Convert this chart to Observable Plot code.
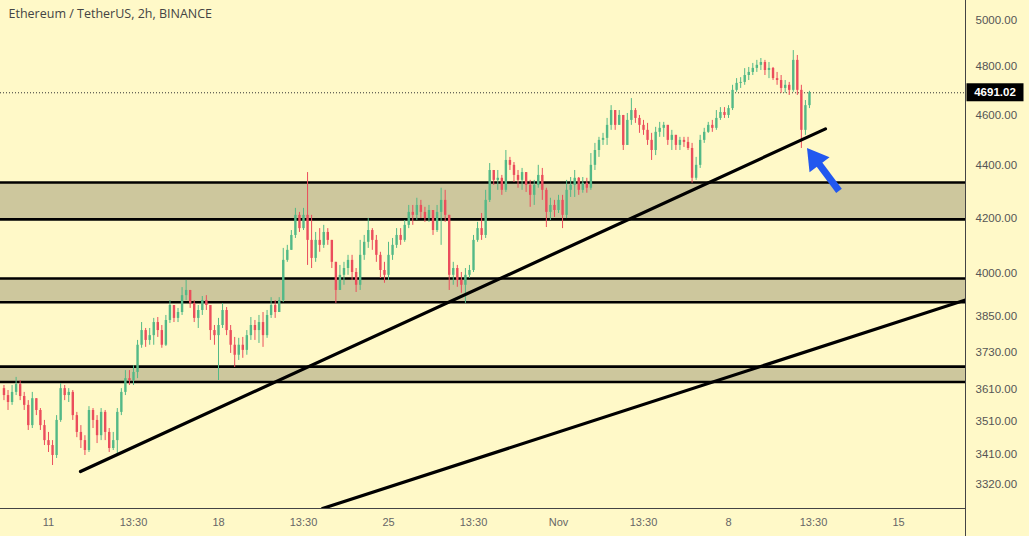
<!DOCTYPE html>
<html><head><meta charset="utf-8">
<script src="https://cdn.jsdelivr.net/npm/d3@7"></script>
<script src="https://cdn.jsdelivr.net/npm/@observablehq/plot@0.6"></script>
<style>
html,body{margin:0;padding:0;background:#fff9c8;}
#chart{position:relative;width:1029px;height:536px;overflow:hidden;}
</style></head><body><div id="chart"></div>
<script>
// ---------- data ----------
const title = "Ethereum / TetherUS, 2h, BINANCE";
const firstCandle = "2021-10-09T04:00:00Z";
const candleHours = 4;
const firstOpen = 3613;
const closes = [
3591,3569,3601,3626,3588,3560,3497,3581,3544,3497,
3451,3436,3406,3513,3613,3591,3601,3528,3476,3451,
3421,3544,3513,3466,3538,3476,3427,3451,3538,3601,
3645,3639,3665,3754,3803,3770,3786,3830,3803,3754,
3837,3888,3844,3864,3922,3940,3895,3844,3871,3905,
3888,3803,3786,3820,3871,3803,3754,3721,3754,3737,
3786,3820,3803,3830,3786,3854,3888,3864,3905,4046,
4082,4136,4210,4161,4210,4118,4053,4118,4100,4147,
4118,4039,3940,3993,4017,4046,4003,3958,4064,4111,
4154,4118,4064,4010,3993,4064,4100,4136,4118,4173,
4221,4210,4247,4221,4198,4228,4154,4221,4266,4210,
3993,4017,3975,3958,3993,4010,4118,4161,4136,4266,
4380,4342,4350,4304,4419,4400,4361,4342,4372,4323,
4285,4323,4361,4304,4221,4247,4228,4266,4210,4304,
4323,4350,4304,4331,4312,4400,4458,4498,4506,4558,
4618,4558,4598,4478,4578,4618,4586,4558,4538,4498,
4458,4530,4546,4558,4498,4518,4478,4498,4490,4466,
4350,4400,4498,4530,4558,4546,4586,4610,4598,4626,
4701,4730,4734,4763,4776,4793,4806,4818,4784,4793,
4750,4742,4709,4722,4701,4827,4701,4538,4638,4691.02];
const highs = [
3623,3607,3623,3649,3639,3601,3575,3601,3581,3550,
3513,3476,3451,3528,3629,3623,3613,3607,3538,3497,
3466,3556,3550,3528,3550,3544,3488,3476,3550,3613,
3671,3671,3687,3770,3830,3810,3810,3844,3847,3820,
3854,3905,3878,3878,3950,3975,3940,3905,3888,3919,
3922,3888,3820,3844,3895,3881,3820,3780,3777,3780,
3803,3847,3837,3854,3864,3871,3915,3905,3915,4089,
4100,4154,4236,4221,4236,4372,4210,4147,4161,4173,
4161,4118,3993,4028,4039,4064,4064,4017,4118,4136,
4198,4161,4136,4075,4039,4111,4125,4161,4161,4191,
4247,4247,4274,4266,4240,4247,4228,4247,4312,4304,
4210,4039,4028,4003,4017,4028,4136,4184,4217,4304,
4407,4380,4380,4361,4458,4431,4411,4380,4388,4372,
4342,4342,4400,4388,4312,4274,4266,4285,4285,4342,
4353,4380,4353,4353,4350,4446,4486,4510,4526,4586,
4638,4606,4618,4598,4606,4667,4626,4598,4578,4566,
4526,4550,4570,4570,4558,4538,4510,4510,4510,4510,
4486,4431,4518,4546,4570,4578,4618,4630,4630,4638,
4722,4750,4754,4792,4797,4814,4827,4835,4827,4818,
4797,4776,4763,4742,4734,4869,4848,4722,4659,4697];
const lows = [
3575,3544,3560,3591,3575,3544,3482,3488,3528,3482,
3436,3415,3376,3397,3507,3575,3569,3513,3460,3427,
3406,3415,3488,3442,3451,3451,3415,3421,3409,3528,
3591,3623,3623,3645,3744,3747,3754,3754,3780,3744,
3750,3827,3830,3830,3854,3905,3878,3830,3810,3854,
3871,3770,3754,3639,3810,3786,3727,3681,3704,3711,
3721,3770,3770,3760,3747,3777,3844,3844,3864,3898,
4039,4082,4125,4147,4154,4028,4017,4039,4075,4089,
4100,4017,3895,3940,3958,3993,3975,3933,3940,4046,
4089,4082,4039,3982,3965,3975,4046,4089,4100,4111,
4161,4173,4191,4198,4184,4184,4136,4147,4100,4184,
3940,3958,3951,3930,3895,3982,4003,4111,4118,4125,
4258,4323,4304,4285,4296,4380,4334,4312,4304,4296,
4240,4247,4312,4266,4165,4191,4202,4217,4161,4198,
4277,4277,4285,4293,4293,4304,4380,4431,4478,4478,
4538,4538,4558,4458,4498,4558,4566,4526,4518,4478,
4419,4438,4510,4510,4478,4458,4458,4458,4470,4458,
4331,4342,4388,4486,4526,4530,4538,4578,4586,4586,
4618,4693,4709,4722,4742,4763,4776,4784,4763,4750,
4742,4722,4689,4689,4680,4693,4680,4466,4518,4626];
const lastPrice = 4691.02;

// support / resistance zones (price)
const zoneLow  = [4195, 3899, 3634];
const zoneHigh = [4334, 3982, 3684];

// trend lines (two points each)
const trendId     = ["a", "a", "b", "b"];
const trendDates  = ["2021-10-12T07:37:00Z", "2021-11-11T23:51:00Z", "2021-10-22T06:46:00Z", "2021-11-17T18:12:00Z"];
const trendPrices = [3358, 4544, 3250.3, 3907];

// annotation arrow (tail -> tip)
const arrowFrom = {date: "2021-11-12T13:42:00Z", price: 4300};
const arrowTo   = {date: "2021-11-11T06:04:00Z", price: 4466};

// axes
const yTicks = [5000, 4800, 4600, 4400, 4200, 4000, 3850, 3730, 3610, 3510, 3410, 3320];
const xTickDates  = ["2021-10-11T00:00:00Z","2021-10-14T12:00:00Z","2021-10-18T00:00:00Z","2021-10-21T12:00:00Z","2021-10-25T00:00:00Z","2021-10-28T12:00:00Z","2021-11-01T00:00:00Z","2021-11-04T12:00:00Z","2021-11-08T00:00:00Z","2021-11-11T12:00:00Z","2021-11-15T00:00:00Z"];
const xTickLabels = ["11","13:30","18","13:30","25","13:30","Nov","13:30","8","13:30","15"];
const xDomain = ["2021-10-09T00:34:00Z", "2021-11-17T18:12:00Z"];
const yDomain = [3250.3, 5089];

// ---------- build ----------
const UP = "#53b987", DOWN = "#eb4d5c", ARROW = "#2258ef";
const t0 = +new Date(firstCandle);
const candles = closes.map((c, i) => {
  const open = i === 0 ? firstOpen : closes[i - 1];
  return {
    date: new Date(t0 + i * candleHours * 3600e3),
    open, close: c,
    high: Math.max(highs[i], open, c),
    low: Math.min(lows[i], open, c),
    color: c >= open ? UP : DOWN
  };
});
const zones = zoneLow.map((lo, i) => ({lo, hi: zoneHigh[i]}));
const zoneEdges = zoneLow.concat(zoneHigh);
const trend = trendId.map((id, i) => ({id, date: new Date(trendDates[i]), price: trendPrices[i]}));
const xd = xDomain.map(d => new Date(d));
const tickLabel = new Map(xTickDates.map((d, i) => [+new Date(d), xTickLabels[i]]));

const W = 1029, H = 536, MR = 64, MB = 28;
const plot = Plot.plot({
  width: W, height: H,
  marginLeft: 0, marginRight: MR, marginTop: 0, marginBottom: MB,
  style: {background: "transparent", fontFamily: "'Liberation Sans', Arial, sans-serif", overflow: "visible"},
  x: {type: "utc", domain: xd},
  y: {type: "log", domain: yDomain},
  marks: [
    Plot.rect(zones, {x1: () => xd[0], x2: () => xd[1], y1: "lo", y2: "hi", fill: "#cdc79d"}),
    Plot.ruleY(zoneEdges, {stroke: "#000", strokeWidth: 2.6}),
    Plot.ruleY([lastPrice], {stroke: "#333", strokeWidth: 1, strokeDasharray: "1,2"}),
    Plot.ruleX(candles, {x: "date", y1: "low", y2: "high", stroke: "color", strokeWidth: 1}),
    Plot.ruleX(candles, {x: "date", y1: "open", y2: "close", stroke: "color", strokeWidth: 2.4}),
    Plot.line(trend, {x: "date", y: "price", z: "id", stroke: "#000", strokeWidth: 3.2, clip: true}),
    Plot.axisY({anchor: "right", ticks: yTicks, tickFormat: d => d.toFixed(2), tickSize: 0, tickPadding: 10, fontSize: 11.5, fill: "#555", textAnchor: "start"}),
    Plot.axisX({ticks: xTickDates.map(d => new Date(d)), tickFormat: d => tickLabel.get(+d), tickSize: 0, tickPadding: 10, fontSize: 11, fill: "#666"}),
    Plot.text([title], {frameAnchor: "top-left", dx: 8, dy: 9, fontSize: 12.5, fill: "#444", textAnchor: "start", fontFamily: "'Open Sans', sans-serif", fontWeight: 500})
  ]
});
document.getElementById("chart").appendChild(plot);

const svg = d3.select(plot);
const sx = plot.scale("x"), sy = plot.scale("y");

// annotation arrow with a filled head, positioned through the plot's scales
const tail = [sx.apply(new Date(arrowFrom.date)), sy.apply(arrowFrom.price)];
const tip  = [sx.apply(new Date(arrowTo.date)),   sy.apply(arrowTo.price)];
const len = Math.hypot(tail[0] - tip[0], tail[1] - tip[1]);
const u = [(tail[0] - tip[0]) / len, (tail[1] - tip[1]) / len];
const pp = [-u[1], u[0]];
const headL = 21, headW = 12.5;
const base = [tip[0] + u[0] * headL, tip[1] + u[1] * headL];
const ga = svg.append("g");
ga.append("line").attr("x1", base[0] - u[0] * 2).attr("y1", base[1] - u[1] * 2)
  .attr("x2", tail[0]).attr("y2", tail[1]).attr("stroke", ARROW).attr("stroke-width", 7);
ga.append("polygon").attr("fill", ARROW).attr("points", [
  tip, [base[0] + pp[0] * headW, base[1] + pp[1] * headW], [base[0] - pp[0] * headW, base[1] - pp[1] * headW]
].map(p => p.join(",")).join(" "));

// axis borders and last-price label
const xr = W - MR + 0.5;
svg.append("line").attr("x1", xr).attr("x2", xr).attr("y1", 0).attr("y2", H).attr("stroke", "#444").attr("stroke-width", 1);
svg.append("line").attr("x1", 0).attr("x2", xr).attr("y1", H - MB + 0.5).attr("y2", H - MB + 0.5).attr("stroke", "#444").attr("stroke-width", 1);
const yl = sy.apply(lastPrice);
svg.append("rect").attr("x", xr + 1).attr("y", yl - 9).attr("width", 57).attr("height", 18).attr("fill", "#000");
svg.append("text").attr("x", xr + 1 + 28.5).attr("y", yl).attr("dy", "0.35em").attr("fill", "#fff")
  .attr("text-anchor", "middle")
  .attr("font-size", 11.5).attr("font-weight", "bold").attr("font-family", "'Liberation Sans', Arial, sans-serif")
  .text(lastPrice.toFixed(2));
</script></body></html>
